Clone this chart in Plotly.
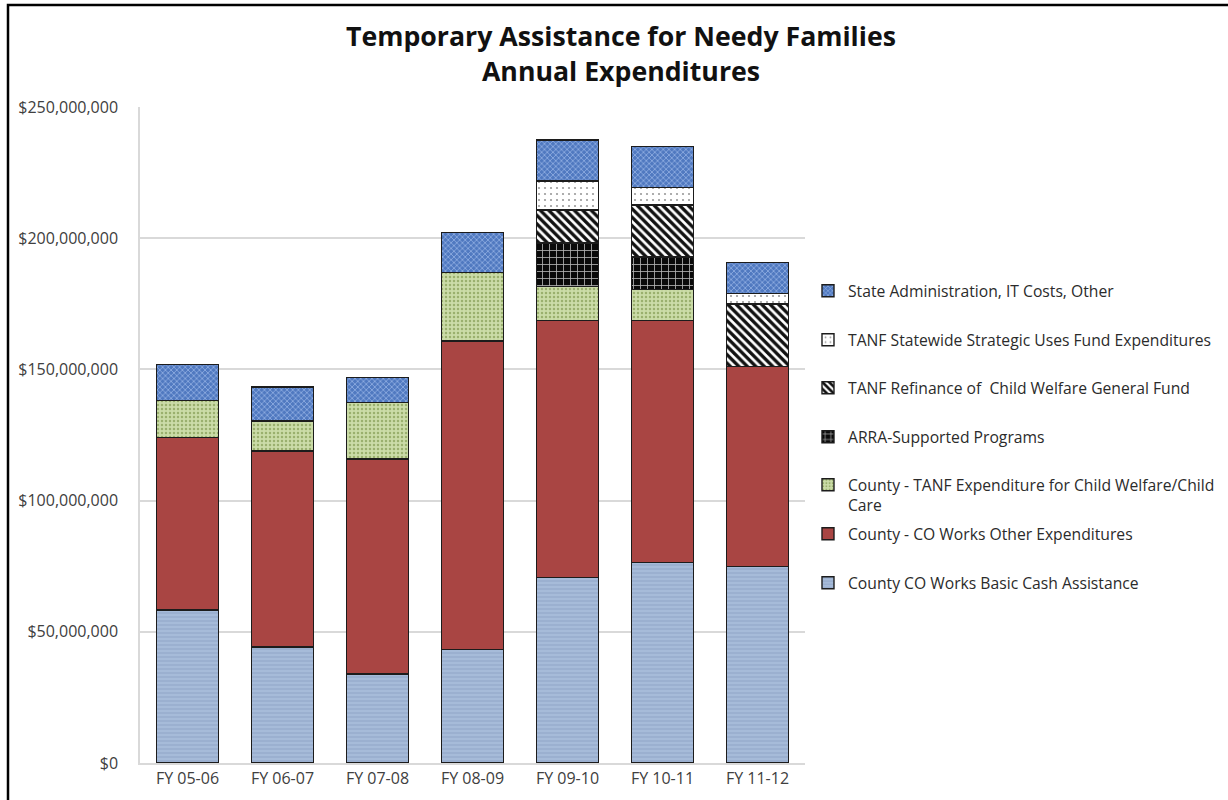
import plotly.graph_objects as go

# Fiscal years on the category axis
years = ["FY 05-06", "FY 06-07", "FY 07-08", "FY 08-09", "FY 09-10", "FY 10-11", "FY 11-12"]

# Annual expenditures by component (dollars); None where a component did not exist that year
basic_cash = [58_300_000, 44_200_000, 33_900_000, 43_300_000, 70_800_000, 76_300_000, 74_900_000]
other_exp = [65_800_000, 74_700_000, 82_000_000, 117_500_000, 97_800_000, 92_300_000, 76_100_000]
child_welfare_care = [14_000_000, 11_500_000, 21_400_000, 26_200_000, 12_900_000, 11_900_000, None]
arra = [None, None, None, None, 16_600_000, 12_400_000, None]
refinance = [None, None, None, None, 12_600_000, 19_800_000, 23_900_000]
strategic = [None, None, None, None, 11_100_000, 6_700_000, 4_100_000]
state_admin = [13_800_000, 12_900_000, 9_700_000, 15_100_000, 15_600_000, 15_500_000, 11_800_000]

# y-axis ticks
tick_vals = [0, 50_000_000, 100_000_000, 150_000_000, 200_000_000, 250_000_000]
tick_text = ["$0", "$50,000,000", "$100,000,000", "$150,000,000", "$200,000,000", "$250,000,000"]

FONT = "Open Sans"
TEXT = "#2b2b2b"
OUTLINE = dict(color="#1c1c1c", width=1.4)

series = [
    ("County CO Works Basic Cash Assistance", basic_cash,
     dict(shape="-", bgcolor="#A6BBD9", fgcolor="#98AECE", size=4, solidity=0.4)),
    ("County - CO Works Other Expenditures", other_exp, None),
    ("County - TANF Expenditure for Child Welfare/Child<br>Care", child_welfare_care,
     dict(shape=".", bgcolor="#CBDCA8", fgcolor="#9AB06E", size=4, solidity=0.3)),
    ("ARRA-Supported Programs", arra,
     dict(shape="+", bgcolor="#0a0a0a", fgcolor="#b5b5b5", size=7, solidity=0.22)),
    ("TANF Refinance of  Child Welfare General Fund", refinance,
     dict(shape="\\", bgcolor="#ffffff", fgcolor="#111111", size=6, solidity=0.55)),
    ("TANF Statewide Strategic Uses Fund Expenditures", strategic,
     dict(shape=".", bgcolor="#ffffff", fgcolor="#9a9a9a", size=6, solidity=0.1)),
    ("State Administration, IT Costs, Other", state_admin,
     dict(shape="x", bgcolor="#5079C0", fgcolor="#A2BEEC", size=4, solidity=0.3)),
]
solid_colors = {"County - CO Works Other Expenditures": "#A94543"}

# Legend rows (pixel centres of each entry, bottom entry first), converted to paper units
plot_top_px, plot_bottom_px = 107, 763
legend_rows_px = [583, 534, 495, 437, 388, 340, 291]

fig = go.Figure()
layout_legends = {}
for i, (name, vals, pattern) in enumerate(series):
    legend_id = "legend" if i == 0 else f"legend{i + 1}"
    marker = dict(line=OUTLINE)
    if pattern is None:
        marker["color"] = solid_colors[name]
    else:
        marker["color"] = pattern["bgcolor"]
        marker["pattern"] = dict(fillmode="replace", **pattern)
    fig.add_trace(go.Bar(
        x=years, y=vals, name=name, marker=marker, width=0.65,
        legend=legend_id,
    ))
    y_paper = (plot_bottom_px - legend_rows_px[i]) / (plot_bottom_px - plot_top_px)
    layout_legends[legend_id] = dict(
        x=1.0045, xanchor="left", y=y_paper, yanchor="middle",
        bgcolor="rgba(0,0,0,0)", borderwidth=0,
        font=dict(family=FONT, size=15.7, color=TEXT),
        valign="top", itemclick=False, itemdoubleclick=False,
    )

fig.update_layout(
    width=1228, height=800,
    margin=dict(l=140, r=423, t=107, b=37, autoexpand=False),
    paper_bgcolor="white", plot_bgcolor="white",
    barmode="stack", bargap=0.35,
    title=dict(
        text="Temporary Assistance for Needy Families<br>Annual Expenditures",
        x=0.5057, xanchor="center", xref="container",
        y=1 - 46 / 800, yanchor="middle", yref="container",
        font=dict(family=FONT, size=26.7, color="#111111", weight="bold"),
    ),
    font=dict(family=FONT, color=TEXT),
    showlegend=True,
    **layout_legends,
)

fig.update_yaxes(
    range=[0, 250_000_000], tickvals=tick_vals, ticktext=tick_text,
    showgrid=True, gridcolor="#d9d9d9", gridwidth=1.5,
    showline=True, linecolor="#d9d9d9", linewidth=1.5,
    zeroline=False, ticks="", ticklabelstandoff=17,
    tickfont=dict(family=FONT, size=16, color="#404040"),
)
fig.update_xaxes(
    showgrid=False, showline=True, linecolor="#d9d9d9", linewidth=1.5,
    ticks="", tickfont=dict(family=FONT, size=16, color="#404040"),
)

# Black frame around the chart
fig.add_shape(
    type="rect", xref="paper", yref="paper",
    x0=(8 - 140) / 665, x1=(1240 - 140) / 665,
    y0=(763 - 820) / 656, y1=(763 - 5) / 656,
    line=dict(color="black", width=2.5), fillcolor="rgba(0,0,0,0)", layer="below",
)

fig.write_html("out.html")
